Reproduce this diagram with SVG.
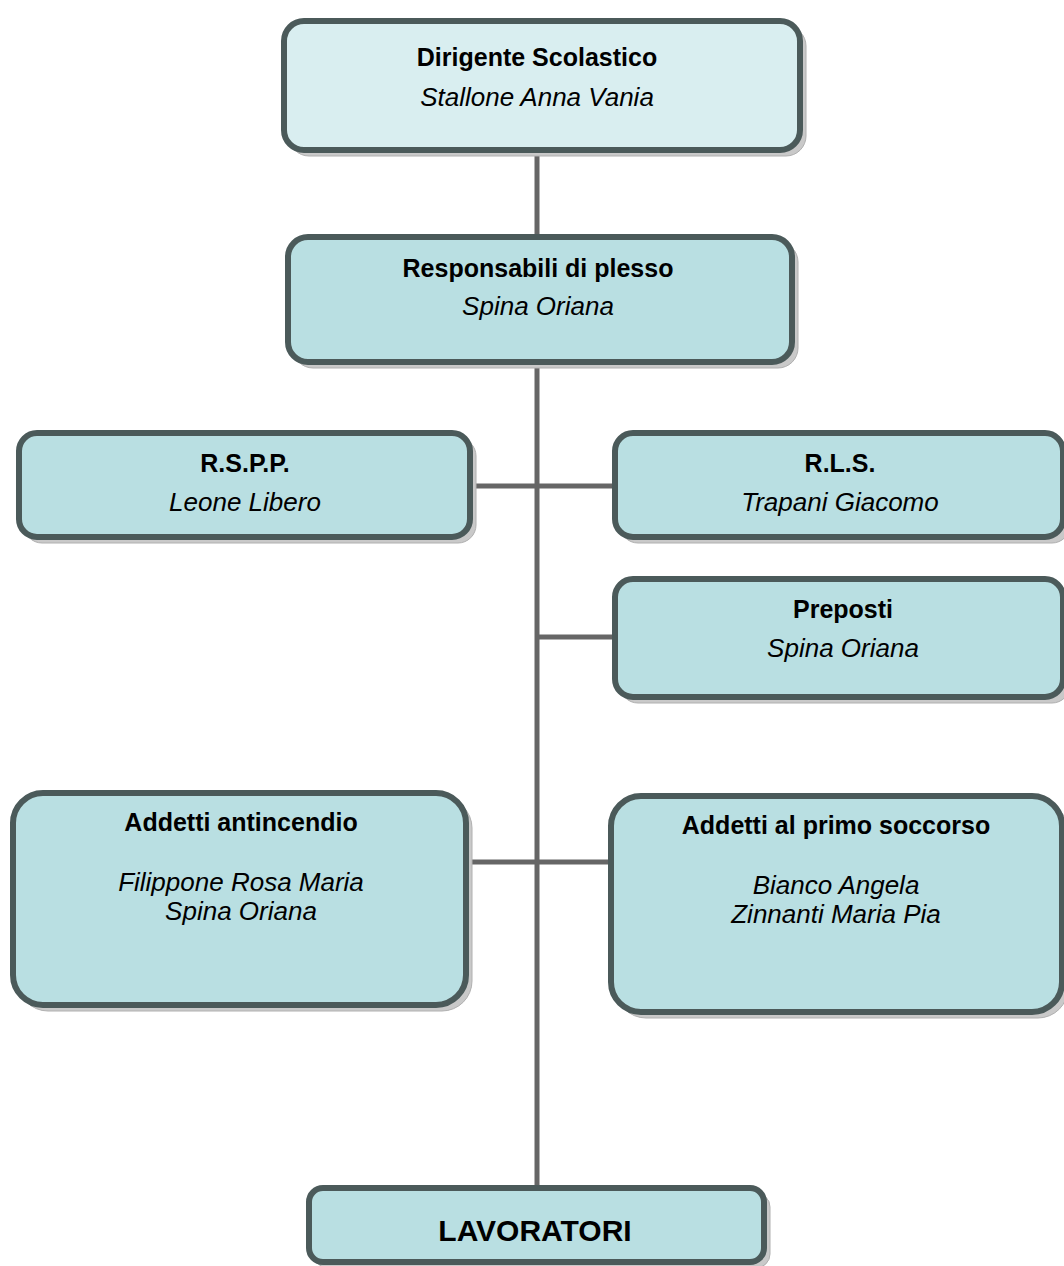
<svg xmlns="http://www.w3.org/2000/svg" width="1064" height="1266" viewBox="0 0 1064 1266">
<style>
.box{fill:#b9dfe2;stroke:#4b5a5a;stroke-width:6}
.top{fill:#d9eef0}
.sh{fill:#c9c9c9;stroke:#b0b0b0;stroke-width:1}
.b{font-family:"Liberation Sans",Arial,sans-serif;font-weight:bold;font-size:25px;text-anchor:middle;fill:#000}
.i{font-family:"Liberation Sans",Arial,sans-serif;font-style:italic;font-size:26px;text-anchor:middle;fill:#000}
.c{stroke:#666;stroke-width:5;fill:none}
</style>
<rect width="1064" height="1266" fill="#fff"/>
<g id="connectors">
<line class="c" x1="537" y1="150" x2="537" y2="1188"/>
<line class="c" x1="468" y1="486" x2="616" y2="486"/>
<line class="c" x1="537" y1="637" x2="616" y2="637"/>
<line class="c" x1="464" y1="862" x2="612" y2="862"/>
</g>
<g id="n1">
<rect class="sh" x="289" y="26" width="517" height="130" rx="20"/>
<rect class="box top" x="284" y="21" width="516" height="129" rx="20"/>
<text class="b" x="537" y="66">Dirigente Scolastico</text>
<text class="i" x="537" y="106">Stallone Anna Vania</text>
</g>
<g id="n2">
<rect class="sh" x="293" y="242" width="505" height="126" rx="20"/>
<rect class="box" x="288" y="237" width="504" height="125" rx="20"/>
<text class="b" x="538" y="277">Responsabili di plesso</text>
<text class="i" x="538" y="315">Spina Oriana</text>
</g>
<g id="n3">
<rect class="sh" x="24" y="438" width="452" height="105" rx="18"/>
<rect class="box" x="19" y="433" width="451" height="104" rx="18"/>
<text class="b" x="245" y="472">R.S.P.P.</text>
<text class="i" x="245" y="511">Leone Libero</text>
</g>
<g id="n4">
<rect class="sh" x="620" y="438" width="450" height="105" rx="18"/>
<rect class="box" x="615" y="433" width="448" height="104" rx="18"/>
<text class="b" x="840" y="472">R.L.S.</text>
<text class="i" x="840" y="511">Trapani Giacomo</text>
</g>
<g id="n5">
<rect class="sh" x="620" y="584" width="450" height="119" rx="18"/>
<rect class="box" x="615" y="579" width="448" height="118" rx="18"/>
<text class="b" x="843" y="618">Preposti</text>
<text class="i" x="843" y="657">Spina Oriana</text>
</g>
<g id="n6">
<rect class="sh" x="18" y="798" width="454" height="213" rx="30"/>
<rect class="box" x="13" y="793" width="453" height="212" rx="30"/>
<text class="b" x="241" y="831">Addetti antincendio</text>
<text class="i" x="241" y="891">Filippone Rosa Maria</text>
<text class="i" x="241" y="920">Spina Oriana</text>
</g>
<g id="n7">
<rect class="sh" x="616" y="801" width="452" height="217" rx="30"/>
<rect class="box" x="611" y="796" width="451" height="216" rx="30"/>
<text class="b" x="836" y="834">Addetti al primo soccorso</text>
<text class="i" x="836" y="894">Bianco Angela</text>
<text class="i" x="836" y="923">Zinnanti Maria Pia</text>
</g>
<g id="n8">
<rect class="sh" x="314" y="1193" width="456" height="75" rx="14"/>
<rect class="box" x="309" y="1188" width="455" height="74" rx="14"/>
<text class="b" x="535" y="1241" style="font-size:30px">LAVORATORI</text>
</g>
</svg>
